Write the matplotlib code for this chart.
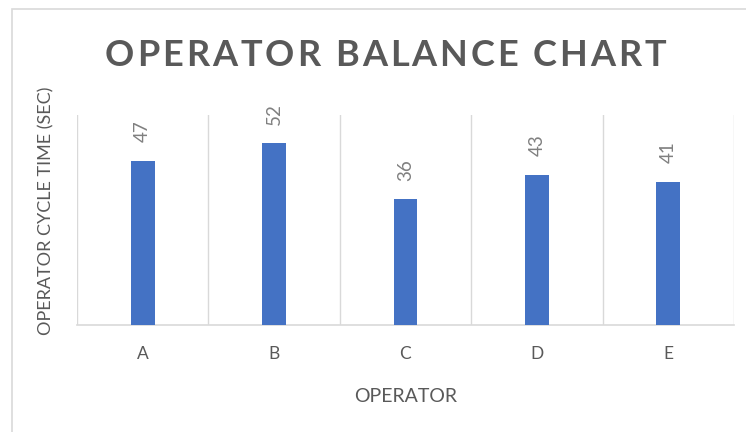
import matplotlib
matplotlib.use("Agg")
import matplotlib.pyplot as plt
from matplotlib.patches import Rectangle
from matplotlib import font_manager
from matplotlib.ft2font import FT2Font

operators = ["A", "B", "C", "D", "E"]
cycle_times = [47, 52, 36, 43, 41]

title = "OPERATOR BALANCE CHART"
xlabel = "OPERATOR"
ylabel = "OPERATOR CYCLE TIME (SEC)"

W, H = 746, 432
DPI = 100
fig = plt.figure(figsize=(W / DPI, H / DPI), dpi=DPI)
fig.patch.set_facecolor("white")
plt.rcParams["font.family"] = ["Lato", "DejaVu Sans"]

# outer chart frame
fig.patches.append(Rectangle((12 / W, -0.1), 1.2, (H - 9) / H + 0.1, transform=fig.transFigure,
                             fill=False, edgecolor="#d9d9d9", linewidth=1.2))

left, right, top, bottom = 77, 734, 115, 325
ax = fig.add_axes([left / W, 1 - bottom / H, (right - left) / W, (bottom - top) / H])
ax.set_facecolor("none")

x = list(range(len(operators)))
ax.bar(x, cycle_times, width=0.18, color="#4472C4", zorder=3)
ax.set_xlim(-0.5, len(operators) - 0.5)
ax.set_ylim(0, 60)

for xi, v in zip(x, cycle_times):
    ax.annotate(str(v), (xi, v), xytext=(0, 13), textcoords="offset points",
                rotation=90, ha="center", va="bottom", color="#808080", fontsize=13.5)

# vertical gridlines at category boundaries
for b in [i - 0.5 for i in range(len(operators) + 1)]:
    ax.axvline(b, color="#d9d9d9", linewidth=1.0, zorder=1)

for s in ["top", "right", "left"]:
    ax.spines[s].set_visible(False)
ax.spines["bottom"].set_color("#d9d9d9")
ax.spines["bottom"].set_linewidth(1.2)
ax.set_yticks([])
ax.set_xticks(x)
ax.set_xticklabels(operators, color="#595959", fontsize=12.5)
ax.tick_params(axis="x", length=0, pad=15)

ax.set_xlabel(xlabel, color="#595959", fontsize=14, labelpad=19)
fig.text(46 / W, 1 - 211 / H, ylabel, rotation=90, ha="center", va="center",
         color="#595959", fontsize=13)

# letter-spaced title
tsize = 26
fp = font_manager.FontProperties(family=["Lato"], weight="bold", size=tsize)
fpath = font_manager.findfont(fp)
ft = FT2Font(fpath)
ft.set_size(tsize, DPI)
adv = []
for c in title:
    g = ft.load_char(ord(c))
    adv.append(g.linearHoriAdvance / 65536.0)
target_left, target_right = 105, 666
natural = sum(adv)
sp = (target_right - target_left - natural) / (len(title) - 1)
xpos = target_left
for c, a in zip(title, adv):
    fig.text(xpos / W, 1 - 55 / H, c, ha="left", va="center", color="#595959",
             fontproperties=fp)
    xpos += a + sp

fig.savefig("out.png", dpi=DPI)
